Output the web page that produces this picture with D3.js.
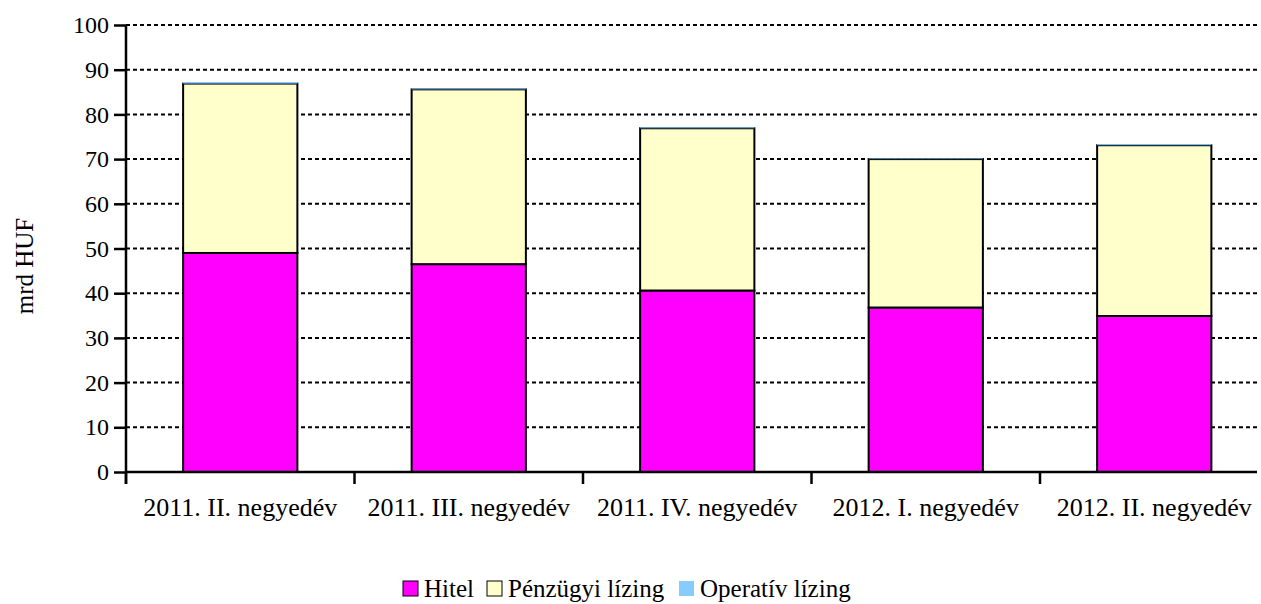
<!DOCTYPE html>
<html>
<head>
<meta charset="utf-8">
<script src="https://cdn.jsdelivr.net/npm/d3@7"></script>
<style>
  body { margin: 0; background: #fff; }
  svg text { font-family: "Liberation Serif", "Times New Roman", serif !important; fill: #000; }
</style>
</head>
<body>
<div id="chart"></div>
<script>
const categories = ['2011. II. negyedév', '2011. III. negyedév', '2011. IV. negyedév', '2012. I. negyedév', '2012. II. negyedév'];
const hitel = [49.0, 46.5, 40.6, 36.8, 34.9];
const penzugyi = [37.9, 39.1, 36.3, 33.2, 38.2];
const operativ = [0.35, 0.2, 0.2, 0.15, 0.25];
const seriesNames = ['Hitel', 'Pénzügyi lízing', 'Operatív lízing'];
const colors = ['#ff00ff', '#ffffcc', '#88ccff'];
const yTicks = [0, 10, 20, 30, 40, 50, 60, 70, 80, 90, 100];

const width = 1261, height = 604;
const plotLeft = 126, plotRight = 1268.5, plotTop = 25, plotBottom = 472;
const gridEnd = 1257;

const svg = d3.select('#chart').append('svg')
    .attr('width', width)
    .attr('height', height);

const x = d3.scaleBand()
    .domain(categories)
    .range([plotLeft, plotRight])
    .paddingInner(0.5)
    .paddingOuter(0.25);
const y = d3.scaleLinear()
    .domain([0, 100])
    .range([plotBottom, plotTop]);

// dashed gridlines
svg.append('g').selectAll('line')
    .data(yTicks.filter(d => d > 0))
    .enter().append('line')
    .attr('x1', plotLeft).attr('x2', gridEnd)
    .attr('y1', d => y(d)).attr('y2', d => y(d))
    .attr('stroke', '#000')
    .attr('stroke-width', 2)
    .attr('stroke-dasharray', '4,3');

// stacked bars
const table = categories.map((c, i) => ({cat: c, Hitel: hitel[i], 'Pénzügyi lízing': penzugyi[i], 'Operatív lízing': operativ[i]}));
const stacked = d3.stack().keys(seriesNames)(table);

stacked.forEach((layer, k) => {
    svg.append('g').selectAll('rect')
        .data(layer)
        .enter().append('rect')
        .attr('x', d => x(d.data.cat))
        .attr('width', x.bandwidth())
        .attr('y', d => y(d[1]))
        .attr('height', d => y(d[0]) - y(d[1]))
        .attr('fill', colors[k])
        .attr('stroke', k < 2 ? '#000' : 'none')
        .attr('stroke-width', 2);
});

// y axis
const yAxis = svg.append('g')
    .attr('transform', `translate(${plotLeft},0)`)
    .call(d3.axisLeft(y).tickValues(yTicks).tickSize(12).tickPadding(5));
yAxis.select('.domain').attr('stroke', '#000').attr('stroke-width', 2.5).attr('d', `M0,${plotTop}V${plotBottom + 12}`);
yAxis.selectAll('.tick line').attr('stroke-width', 2.5);
yAxis.selectAll('text').attr('font-size', 24);

// x axis
const xAxis = svg.append('g')
    .attr('transform', `translate(0,${plotBottom})`)
    .call(d3.axisBottom(x).tickSize(0).tickPadding(26));
xAxis.select('.domain').attr('stroke', '#000').attr('stroke-width', 2.5).attr('d', `M${plotLeft},0H${gridEnd}`);
xAxis.selectAll('text').attr('font-size', 26);
xAxis.selectAll('.bound')
    .data(d3.range(categories.length + 1))
    .enter().append('line')
    .attr('class', 'bound')
    .attr('x1', i => plotLeft + i * x.step())
    .attr('x2', i => plotLeft + i * x.step())
    .attr('y1', 0).attr('y2', 12)
    .attr('stroke', '#000')
    .attr('stroke-width', 2.5);

// y label
svg.append('text')
    .attr('transform', 'translate(33,266) rotate(-90)')
    .attr('text-anchor', 'middle')
    .attr('font-size', 25)
    .text('mrd HUF');

// legend
const legendX = [403, 487, 679];
const legend = svg.append('g').attr('transform', 'translate(0,597)');
seriesNames.forEach((name, k) => {
    legend.append('rect')
        .attr('x', legendX[k]).attr('y', -16)
        .attr('width', 15).attr('height', 15)
        .attr('fill', colors[k])
        .attr('stroke', k < 2 ? '#000' : 'none')
        .attr('stroke-width', 1);
    legend.append('text')
        .attr('x', legendX[k] + 21).attr('y', 0)
        .attr('font-size', 25)
        .text(name);
});
</script>
</body>
</html>
